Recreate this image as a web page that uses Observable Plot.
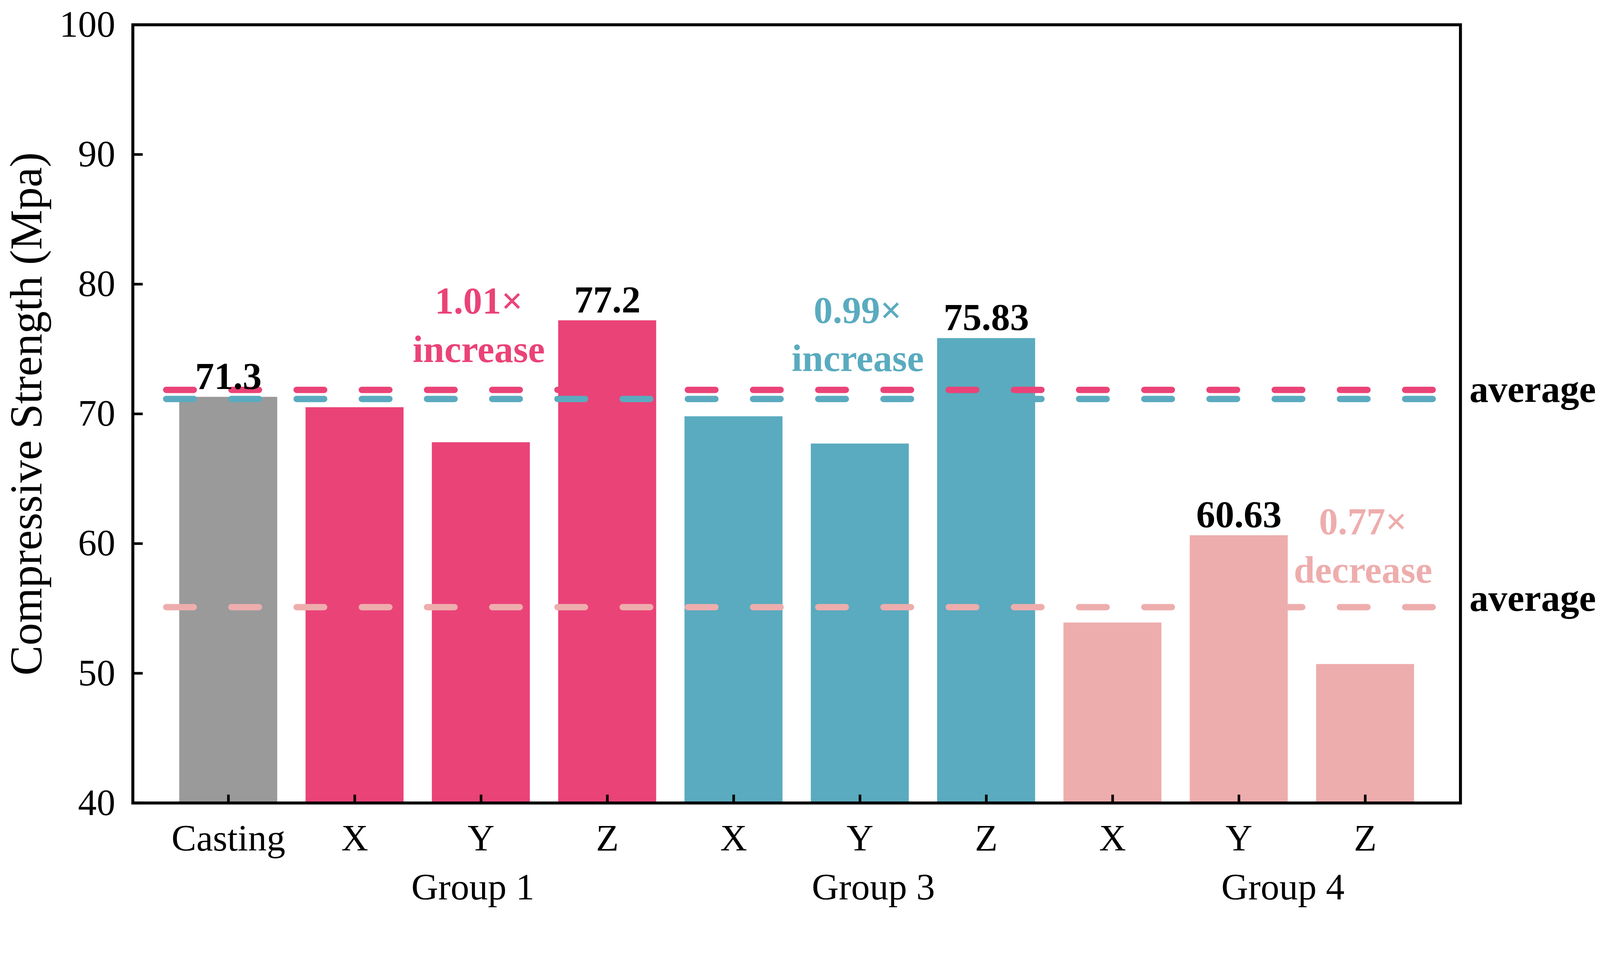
<!DOCTYPE html>
<html><head><meta charset="utf-8">
<script src="https://cdn.jsdelivr.net/npm/d3@7"></script>
<script src="https://cdn.jsdelivr.net/npm/@observablehq/plot@0.6"></script>
<style>html,body{margin:0;padding:0;background:#fff;overflow:hidden}svg{display:block}</style>
</head><body><div id="chart"></div>
<script>
const keys = ["C","G1X","G1Y","G1Z","G3X","G3Y","G3Z","G4X","G4Y","G4Z"];
const tickLabels = ["Casting","X","Y","Z","X","Y","Z","X","Y","Z"];
const groups = ["Casting","Group 1","Group 1","Group 1","Group 3","Group 3","Group 3","Group 4","Group 4","Group 4"];
const strengths = [71.3,70.5,67.8,77.2,69.8,67.7,75.83,53.9,60.63,50.7];
const groupNames = ["Casting","Group 1","Group 3","Group 4"];
const groupColors = ["#9a9a9a","#ea4378","#5aabbf","#eeadad"];
const valueLabelKeys = ["C","G1Z","G3Z","G4Y"];
const valueLabels = ["71.3","77.2","75.83","60.63"];
const averageGroups = ["Group 1","Group 3","Group 4"];
const averages = [71.85,71.15,55.1];
const ratioKeys = ["G1Y","G3Y","G4Z"];
const ratioGroups = ["Group 1","Group 3","Group 4"];
const ratioTexts = ["1.01×\nincrease","0.99×\nincrease","0.77×\ndecrease"];
const ratioY = [74.0,73.3,57.0];
const averageLabels = ["average","average"];
const averageLabelY = [71.85,55.75];
const groupLabelKeys = ["G1Y","G3Y","G4Y"];
const groupLabels = ["Group 1","Group 3","Group 4"];
const yTicks = [40,50,60,70,80,90,100];

const bars = keys.map((k,i)=>({key:k, group:groups[i], value:strengths[i]}));
const vals = valueLabelKeys.map((k,i)=>({key:k, text:valueLabels[i], value:strengths[keys.indexOf(k)]}));
const avgs = averageGroups.map((g,i)=>({group:g, value:averages[i]}));
const ratios = ratioKeys.map((k,i)=>({key:k, group:ratioGroups[i], text:ratioTexts[i], y:ratioY[i]}));
const avgLab = averageLabels.map((t,i)=>({text:t, y:averageLabelY[i]}));
const grpLab = groupLabelKeys.map((k,i)=>({key:k, text:groupLabels[i]}));
const labelOf = Object.fromEntries(keys.map((k,i)=>[k,tickLabels[i]]));
const groupShift = [-22, 36, 118];

const font = "'Liberation Serif', 'Times New Roman', serif";
const chart = Plot.plot({
  width: 4294, height: 2453,
  marginLeft: 356, marginRight: 375, marginTop: 66, marginBottom: 298,
  style: {fontFamily: font, background: "#fff", color: "#000"},
  x: {domain: keys, paddingInner: 0.225, paddingOuter: 0.3625, label: null},
  y: {domain: [40,100], label: null},
  color: {domain: groupNames, range: groupColors},
  marks: [
    Plot.barY(bars, {x:"key", y1:40, y2:"value", fill:"group"}),
    Plot.ruleY(avgs, {y:"value", stroke:"group", strokeWidth:17, strokeDasharray:"74,101", strokeLinecap:"round", insetLeft:90, insetRight:69}),
    Plot.text(vals, {x:"key", y:"value", text:"text", lineAnchor:"bottom", dy:-22, fontSize:102, fontWeight:"bold", fill:"#000"}),
    Plot.text(ratios, {x:"key", y:"y", text:"text", dx:-6, lineAnchor:"bottom", lineHeight:1.27, fontSize:102, fontWeight:"bold", fill:"group"}),
    Plot.text(avgLab, {y:"y", text:"text", frameAnchor:"right", textAnchor:"start", dx:24, lineAnchor:"middle", fontSize:102, fontWeight:"bold", fill:"#000"}),
    ...grpLab.map((d,i)=>Plot.text([d], {x:"key", text:"text", frameAnchor:"bottom", lineAnchor:"top", dx:groupShift[i], dy:188, fontSize:100, fill:"#000"})),
    Plot.text(["Compressive Strength (Mpa)"], {text:d=>d, frameAnchor:"left", rotate:-90, dx:-284, textAnchor:"middle", lineAnchor:"middle", fontSize:121, fill:"#000"}),
    Plot.axisY({ticks: yTicks, tickSize:-27, tickPadding:74, strokeWidth:7, fontSize:100, label:null, tickFormat:d=>String(d)}),
    Plot.axisX({tickSize:-22, tickPadding:79, strokeWidth:7, fontSize:100, label:null, tickFormat:k=>labelOf[k]}),
    Plot.frame({stroke:"#000", strokeWidth:8})
  ]
});
document.getElementById("chart").appendChild(chart);
</script>
</body></html>
